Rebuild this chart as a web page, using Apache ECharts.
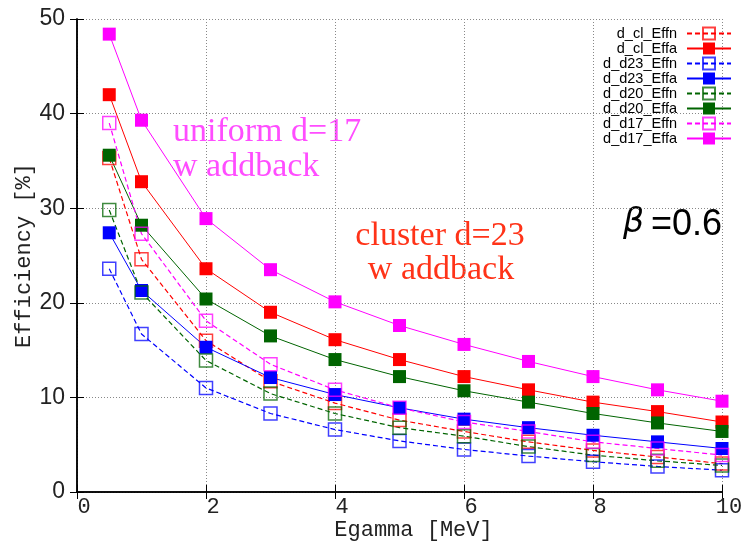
<!DOCTYPE html>
<html>
<head>
<meta charset="utf-8">
<script src="https://cdn.jsdelivr.net/npm/echarts@6/dist/echarts.min.js"></script>
<style>
html, body { margin: 0; padding: 0; background: #fff; }
#chart { width: 751px; height: 542px; }
</style>
</head>
<body>
<div id="chart"></div>
<script>
// gamma energies [MeV]
var egamma = [0.5, 1, 2, 3, 4, 5, 6, 7, 8, 9, 10];
var xTicks = [0, 2, 4, 6, 8, 10];
var yTicks = [0, 10, 20, 30, 40, 50];

// efficiencies [%]
var d_cl_Effn  = [35.3, 24.6, 16.0, 11.7, 9.4, 7.6, 6.4, 5.3, 4.4, 3.7, 3.0];
var d_cl_Effa  = [42.0, 32.8, 23.6, 19.0, 16.1, 14.0, 12.2, 10.8, 9.5, 8.5, 7.4];
var d_d23_Effn = [23.6, 16.7, 11.0, 8.3, 6.6, 5.4, 4.5, 3.8, 3.2, 2.7, 2.3];
var d_d23_Effa = [27.4, 21.3, 15.3, 12.1, 10.3, 8.9, 7.7, 6.8, 6.0, 5.3, 4.6];
var d_d20_Effn = [29.8, 21.1, 13.9, 10.4, 8.3, 6.8, 5.9, 4.8, 3.9, 3.3, 2.8];
var d_d20_Effa = [35.6, 28.2, 20.4, 16.5, 14.0, 12.2, 10.7, 9.5, 8.3, 7.3, 6.4];
var d_d17_Effn = [39.0, 27.3, 18.1, 13.5, 10.8, 8.9, 7.4, 6.4, 5.3, 4.6, 3.9];
var d_d17_Effa = [48.4, 39.3, 28.9, 23.5, 20.1, 17.6, 15.6, 13.8, 12.2, 10.8, 9.6];

var chart = echarts.init(document.getElementById('chart'));

function pairs(ys) {
    return egamma.map(function (x, i) { return [x, ys[i]]; });
}

// open = "Effn" (dashed line, hollow square), filled = "Effa"
function makeSeries(name, ys, color, open) {
    return {
        name: name,
        type: 'line',
        data: pairs(ys),
        symbol: 'rect',
        symbolSize: 13,
        lineStyle: { color: color, width: open ? 1.2 : 1, type: open ? [5, 3] : 'solid' },
        itemStyle: open
            ? { color: 'rgba(255,255,255,0)', borderColor: color, borderWidth: 1.5, opacity: 0.75 }
            : { color: color },
        emphasis: { disabled: true }
    };
}

var series = [
    makeSeries('d_cl_Effn', d_cl_Effn, '#ff0000', true),
    makeSeries('d_cl_Effa', d_cl_Effa, '#ff0000', false),
    makeSeries('d_d23_Effn', d_d23_Effn, '#0000ff', true),
    makeSeries('d_d23_Effa', d_d23_Effa, '#0000ff', false),
    makeSeries('d_d20_Effn', d_d20_Effn, '#006400', true),
    makeSeries('d_d20_Effa', d_d20_Effa, '#006400', false),
    makeSeries('d_d17_Effn', d_d17_Effn, '#ff00ff', true),
    makeSeries('d_d17_Effa', d_d17_Effa, '#ff00ff', false)
];

var gridLine = { show: true, lineStyle: { color: '#888', width: 1, type: [1, 2] } };
var frameLine = { show: true, lineStyle: { color: '#000', width: 1.5 } };
var innerTick = { show: true, inside: true, length: 7, lineStyle: { color: '#000' } };

var option = {
    animation: false,
    grid: { left: 77, right: 29, top: 19, bottom: 50, outerBoundsMode: 'none', containLabel: false },
    legend: {
        orient: 'vertical',
        right: 14,
        top: 21,
        align: 'right',
        itemWidth: 44,
        itemHeight: 15,
        itemGap: 0,
        data: series.map(function (s) { return s.name; }),
        textStyle: { fontFamily: 'Liberation Sans', fontSize: 14.5, color: '#000', padding: [0, 5, 0, 0] },
        selectedMode: false
    },
    xAxis: [{
        type: 'value',
        min: xTicks[0],
        max: xTicks[xTicks.length - 1],
        interval: 2,
        name: 'Egamma [MeV]',
        nameLocation: 'middle',
        nameGap: 27,
        nameMoveOverlap: false,
        nameTextStyle: { fontFamily: 'Liberation Mono', fontSize: 22, color: '#222', padding: [0, 0, 0, 28] },
        axisLine: frameLine,
        axisTick: innerTick,
        splitLine: gridLine,
        axisLabel: { fontFamily: 'Liberation Mono', fontSize: 22, color: '#222', margin: 4, padding: [0, 0, 0, 14] }
    }, {
        type: 'value',
        position: 'top',
        min: xTicks[0],
        max: xTicks[xTicks.length - 1],
        interval: 2,
        axisLine: frameLine,
        axisTick: innerTick,
        splitLine: { show: false },
        axisLabel: { show: false }
    }],
    yAxis: [{
        type: 'value',
        min: yTicks[0],
        max: yTicks[yTicks.length - 1],
        interval: 10,
        name: 'Efficiency [%]',
        nameLocation: 'middle',
        nameGap: 42,
        nameMoveOverlap: false,
        nameRotate: 90,
        nameTextStyle: { fontFamily: 'Liberation Mono', fontSize: 22, color: '#222' },
        axisLine: frameLine,
        axisTick: innerTick,
        splitLine: gridLine,
        axisLabel: { fontFamily: 'Liberation Sans', fontSize: 23, color: '#222', margin: 12 }
    }, {
        type: 'value',
        position: 'right',
        min: yTicks[0],
        max: yTicks[yTicks.length - 1],
        interval: 10,
        axisLine: frameLine,
        axisTick: innerTick,
        splitLine: { show: false },
        axisLabel: { show: false }
    }],
    graphic: [
        { type: 'text', x: 173, y: 115, style: { text: 'uniform d=17', fontFamily: 'Liberation Serif', fontSize: 34, fill: '#ff4dff', align: 'left', verticalAlign: 'alphabetic' } },
        { type: 'text', x: 173, y: 150, style: { text: 'w addback', fontFamily: 'Liberation Serif', fontSize: 34, fill: '#ff4dff', align: 'left', verticalAlign: 'alphabetic' } },
        { type: 'text', x: 440, y: 219, style: { text: 'cluster d=23', fontFamily: 'Liberation Serif', fontSize: 34, fill: '#ff3318', align: 'center', verticalAlign: 'alphabetic' } },
        { type: 'text', x: 441, y: 253, style: { text: 'w addback', fontFamily: 'Liberation Serif', fontSize: 34, fill: '#ff3318', align: 'center', verticalAlign: 'alphabetic' } },
        { type: 'text', x: 623, y: 207, style: { text: 'β', fontFamily: 'DejaVu Sans', fontStyle: 'italic', fontSize: 33, fill: '#000', align: 'left', verticalAlign: 'alphabetic' } },
        { type: 'text', x: 651, y: 207, style: { text: '=0.6', fontFamily: 'Liberation Sans', fontSize: 36, fill: '#000', align: 'left', verticalAlign: 'alphabetic' } }
    ],
    series: series
};

chart.setOption(option);
</script>
</body>
</html>
